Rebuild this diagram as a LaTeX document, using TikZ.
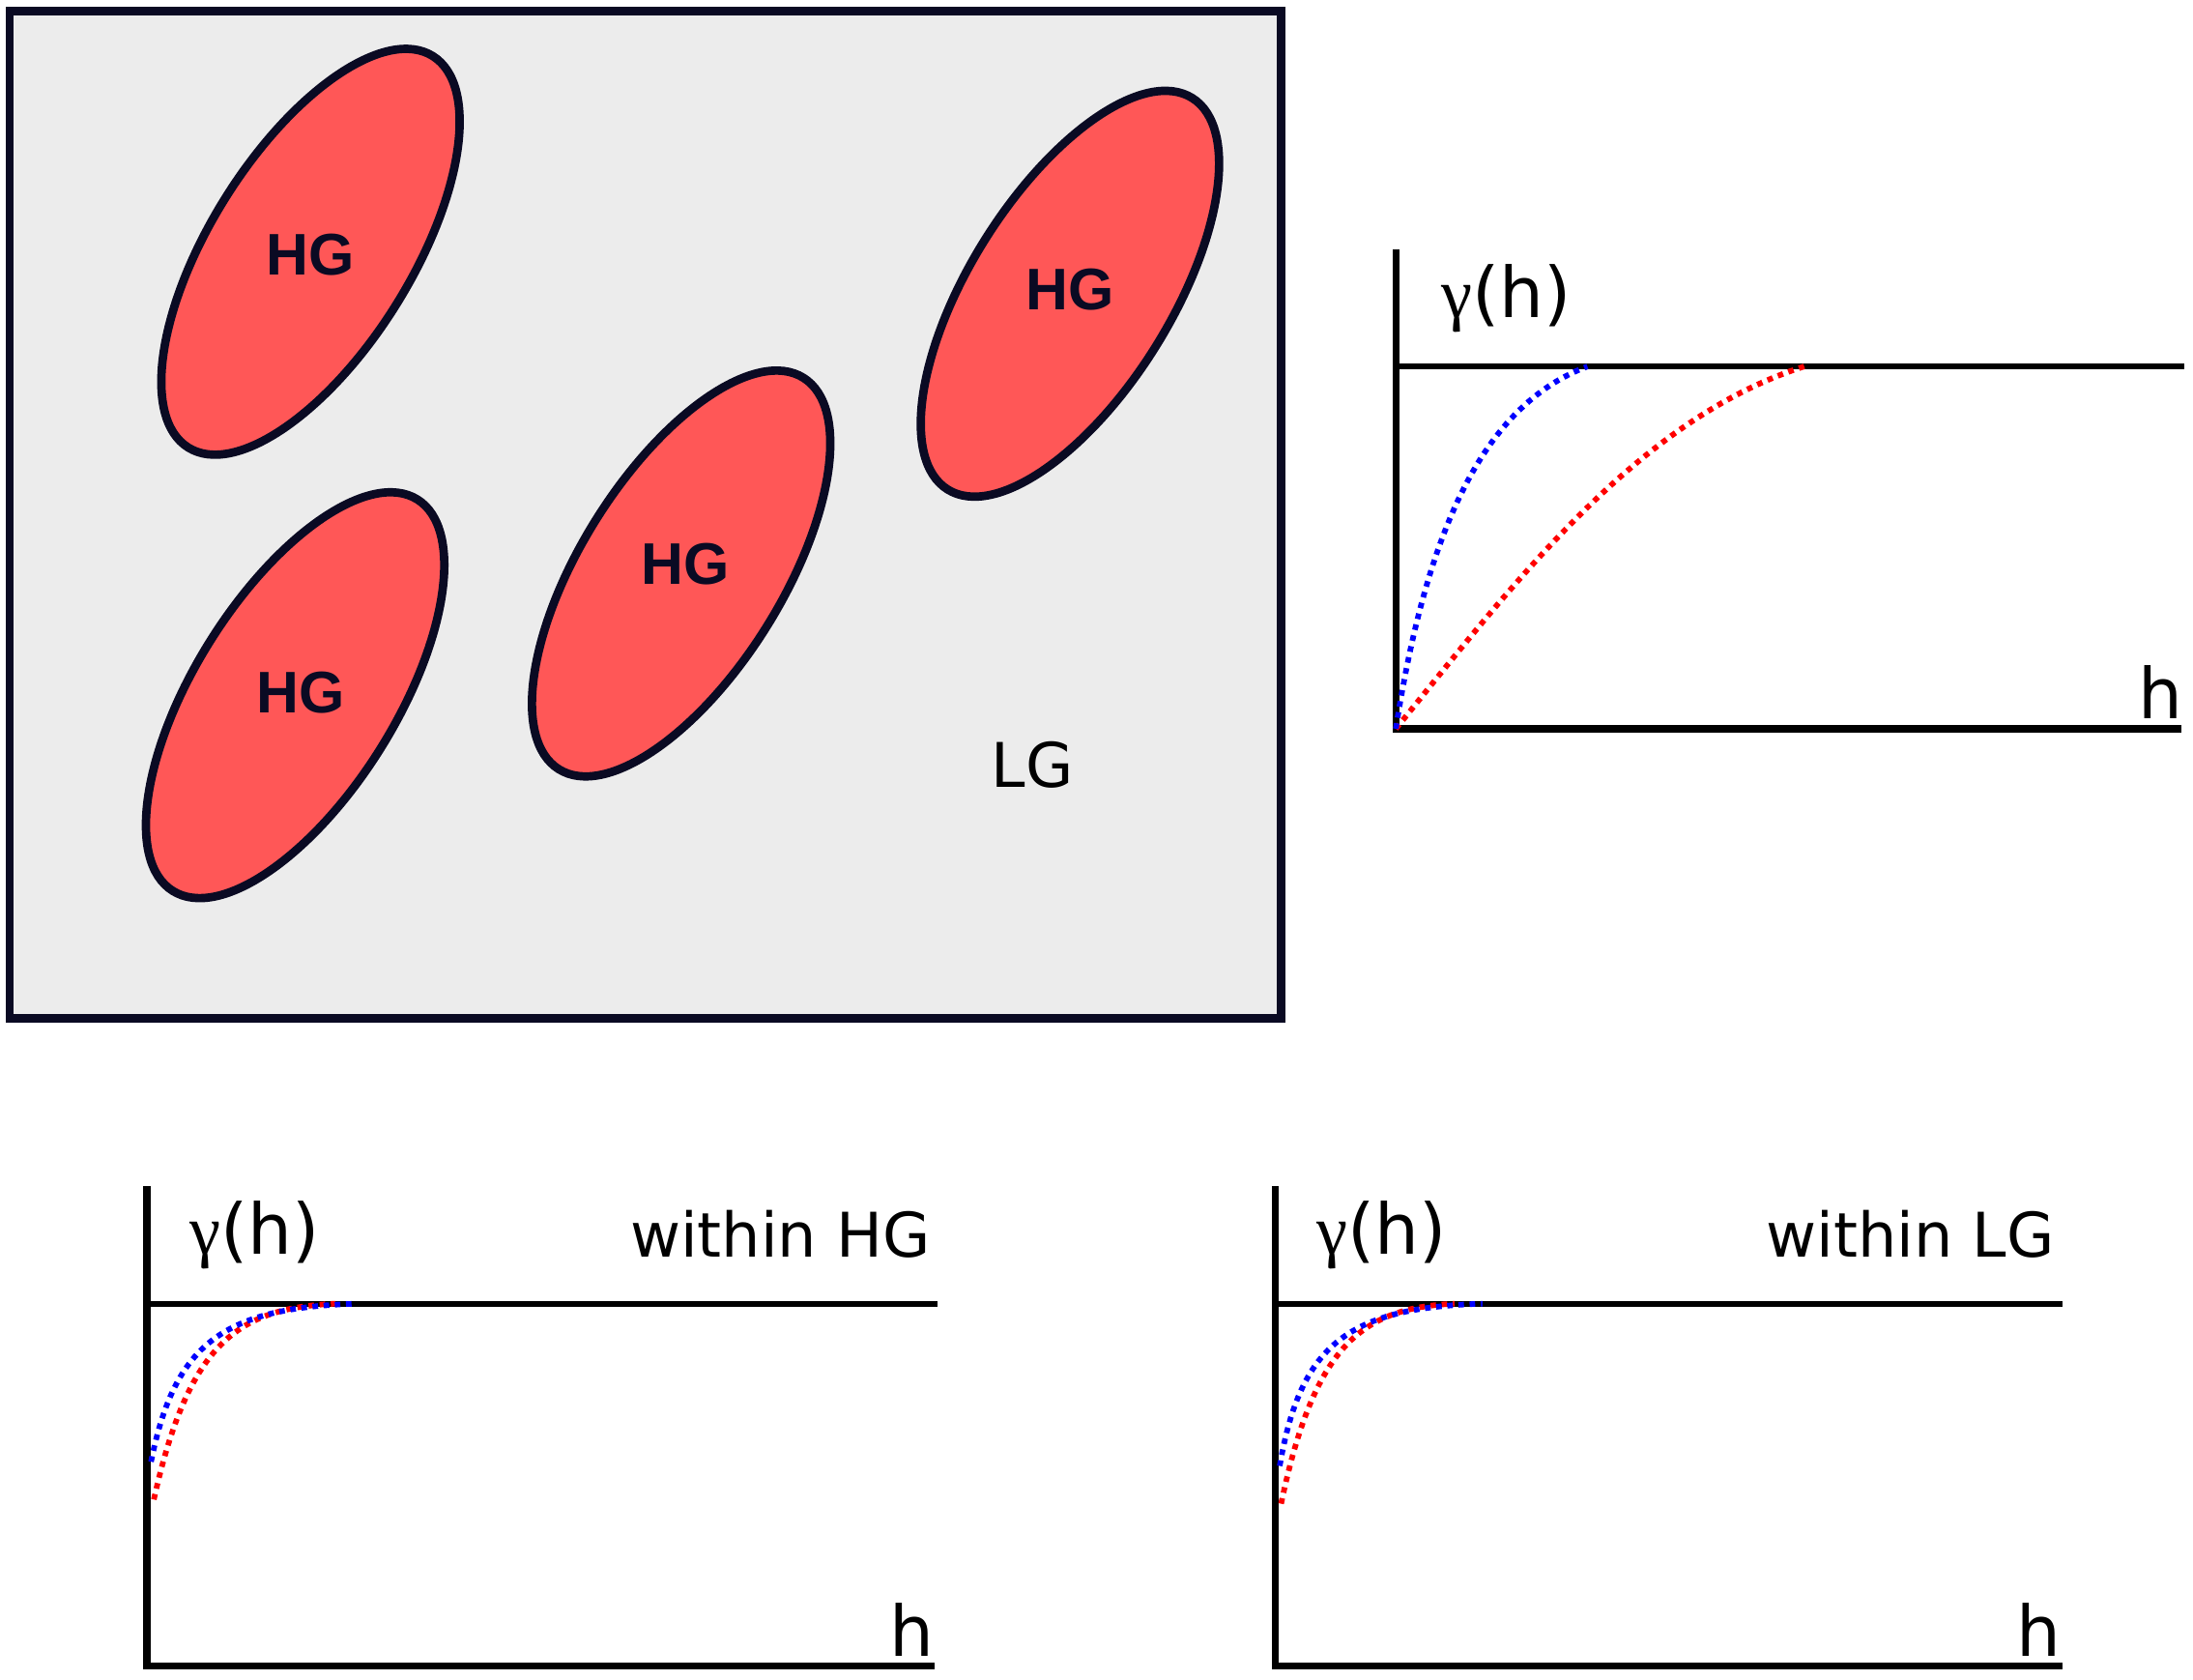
\documentclass[tikz,border=0pt]{standalone}
\usepackage{fontspec}
\setmainfont{DejaVu Sans}
\newfontfamily\hgfont{Liberation Sans}
\newfontfamily\gfont{Liberation Serif}
\begin{document}
\begin{tikzpicture}[x=1pt,y=-1pt,
  frame/.style={draw=navy,line width=6pt},
  blob/.style={draw=navy,line width=6pt,fill=blobred},
  hglab/.style={font=\hgfont\bfseries\fontsize{42}{42}\selectfont,text=navy},
  axis/.style={line width=5pt,black},
  sill/.style={line width=4pt,black},
  bdot/.style={blue,line width=4pt,dash pattern=on 4pt off 4pt},
  rdot/.style={red,line width=4pt,dash pattern=on 4pt off 4pt},
  big/.style={font=\fontsize{50}{50}\selectfont},
  mid/.style={font=\fontsize{44}{44}\selectfont}]
\definecolor{navy}{HTML}{0A0A23}
\definecolor{blobred}{HTML}{FF5757}
\definecolor{bg}{HTML}{ECECEC}
\useasboundingbox (0,0) rectangle (1568,1201);
\draw[frame,fill=bg] (7,8) rectangle (916,728);
\foreach \cx/\cy in {222/180,211/497,487/410,765/210}{
  \draw[blob,rotate around={58:(\cx,\cy)}] (\cx,\cy) ellipse [x radius=165,y radius=72];
}
\node[hglab] (h1) at (222,182) {HG};
\node[hglab] (h2) at (215,495) {HG};
\node[hglab] (h3) at (490,403) {HG};
\node[hglab] (h4) at (765,207) {HG};
\node[mid] (lg) at (738,547) {LG};
% graph 1
\coordinate (o1) at (998,521);
\draw[axis] (998,178) -- (o1) -- (1560,521);
\draw[sill] (1000,262) -- (1562,262);
\node[big] (g1) at (1077,213) {{\gfont γ}(h)};
\node[big] (x1) at (1545,495) {h};
\draw[rdot] (o1) .. controls (1080,420) and (1170,300) .. (1290,262);
\draw[bdot] (o1) .. controls (1020,380) and (1060,290) .. (1135,262);
% graph 2
\coordinate (o2) at (105,1191);
\draw[axis] (105,848) -- (o2) -- (668,1191);
\draw[sill] (105,932) -- (670,932);
\node[big] (g2) at (182,883) {{\gfont γ}(h)};
\node[mid] (w2) at (558,882) {within HG};
\node[big] (x2) at (652,1165) {h};
\draw[rdot] (110,1072) .. controls (135,960) and (170,935) .. (240,932);
\draw[bdot] (108,1045) .. controls (125,960) and (160,935) .. (255,932);
% graph 3
\coordinate (o3) at (912,1191);
\draw[axis] (912,848) -- (o3) -- (1475,1191);
\draw[sill] (912,932) -- (1475,932);
\node[big] (g3) at (988,883) {{\gfont γ}(h)};
\node[mid] (w3) at (1366,882) {within LG};
\node[big] (x3) at (1458,1165) {h};
\draw[rdot] (916,1075) .. controls (940,960) and (975,935) .. (1040,932);
\draw[bdot] (915,1048) .. controls (930,960) and (965,935) .. (1060,932);
\end{tikzpicture}
\end{document}
